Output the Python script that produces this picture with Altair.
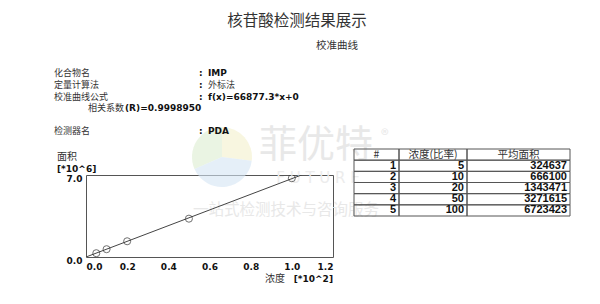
import altair as alt
import pandas as pd

# ---------------- data ----------------
row_ids = [1, 2, 3, 4, 5]
conc = [5, 10, 20, 50, 100]
area = [324637, 666100, 1343471, 3271615, 6723423]
slope = 66877.3
intercept = 0.0
x_ticks = [0.0, 0.2, 0.4, 0.6, 0.8, 1.0, 1.2]
y_ticks = [0.0, 7.0]
headers = ["#", "浓度(比率)", "平均面积"]

# ---------------- layout ----------------
OX, OY = 86, 175          # plot-area origin on the page
W, H = 247, 82            # plot-area size
CJK = "Noto Sans CJK SC"
BOLD = "DejaVu Sans"
one = pd.DataFrame({"a": [0]})


def label(text, x, y, size=9, weight="normal", font=CJK, color="#333",
          align="left", baseline="middle", opacity=1.0):
    return alt.Chart(one).mark_text(
        text=text, align=align, baseline=baseline, font=font, fontSize=size,
        fontWeight=weight, color=color, opacity=opacity
    ).encode(x=alt.value(x - OX), y=alt.value(y - OY))


# ---------------- calibration plot ----------------
pts = pd.DataFrame({"x": [c / 100 for c in conc], "y": [a / 1e6 for a in area]})
line_x = [0.0, 1.2]
line_df = pd.DataFrame({"x": line_x,
                        "y": [(slope * v * 100 + intercept) / 1e6 for v in line_x]})

xs = alt.Scale(domain=[0, 1.2], nice=False, zero=False)
ys = alt.Scale(domain=[0, 7.0], nice=False)
xaxis = alt.Axis(values=x_ticks, format=".1f", title=None, ticks=False, domain=False,
                 grid=False, labelFont=BOLD, labelFontWeight="bold", labelFontSize=9,
                 labelColor="#111", labelPadding=5)
yaxis = alt.Axis(values=y_ticks, format=".1f", title=None, ticks=False, domain=False,
                 grid=False, labelFont=BOLD, labelFontWeight="bold", labelFontSize=9,
                 labelColor="#111", labelPadding=4, labelOffset=3)

fit_line = alt.Chart(line_df).mark_line(color="#444", strokeWidth=1, clip=True).encode(
    x=alt.X("x:Q", scale=xs, axis=xaxis),
    y=alt.Y("y:Q", scale=ys, axis=yaxis),
)
points = alt.Chart(pts).mark_point(shape="circle", filled=False, color="#333",
                                   size=50, strokeWidth=1, clip=True).encode(
    x=alt.X("x:Q", scale=xs), y=alt.Y("y:Q", scale=ys))
plot = alt.layer(fit_line, points)

# ---------------- table ----------------
col_w = [45, 68, 103]
edges = [0]
for w in col_w:
    edges.append(edges[-1] + w)
T_X0, T_X1 = 354 - OX, 570 - OX
T_Y0, T_Y1 = 149 - OY, 216 - OY

cells = []
for r in range(6):
    for c in range(3):
        cells.append({"row": r, "x0": edges[c], "x1": edges[c + 1]})
cells_df = pd.DataFrame(cells)

head_df = pd.DataFrame({"row": [0, 0, 0], "xc": [(edges[c] + edges[c + 1]) / 2 for c in range(3)],
                        "t": headers})
body = []
for i in range(5):
    vals = [str(row_ids[i]), str(conc[i]), str(area[i])]
    for c in range(3):
        body.append({"row": i + 1, "xr": edges[c + 1], "t": vals[c]})
body_df = pd.DataFrame(body)

txs = alt.Scale(domain=[0, edges[-1]], range=[T_X0, T_X1], nice=False, zero=False)
tys = alt.Scale(domain=list(range(6)), range=[T_Y0, T_Y1], paddingInner=0, paddingOuter=0)

t_rect = alt.Chart(cells_df).mark_rect(fill="white", fillOpacity=0, stroke="#555",
                                       strokeWidth=1).encode(
    x=alt.X("x0:Q", scale=txs, axis=None), x2="x1:Q",
    y=alt.Y("row:O", scale=tys, axis=None))
t_head = alt.Chart(head_df).mark_text(font=CJK, fontSize=10.5, color="#333",
                                      align="center", baseline="middle").encode(
    x=alt.X("xc:Q", scale=txs, axis=None), y=alt.Y("row:O", scale=tys, axis=None),
    text="t:N")
t_body = alt.Chart(body_df).mark_text(font="Liberation Sans", fontWeight="bold",
                                      fontSize=11, color="#111", align="right",
                                      baseline="middle", dx=-3).encode(
    x=alt.X("xr:Q", scale=txs, axis=None), y=alt.Y("row:O", scale=tys, axis=None),
    text="t:N")
table = alt.layer(t_rect, t_head, t_body)

# ---------------- watermark ----------------
arc_specs = [(4.3, 6.2832, "#dcecd0"), (0.0, 1.7, "#f4f0cc"), (1.7, 4.3, "#d3e5f4")]
wm = []
for t0, t1, col in arc_specs:
    wm.append(alt.Chart(one).mark_arc(color=col, opacity=0.6, theta=t0, theta2=t1,
                                      radius=30).encode(
        x=alt.value(222 - OX), y=alt.value(157 - OY)))
wm += [
    label("菲优特", 259, 146, size=38, color="#e8e8e8"),
    label("®", 381, 136, size=16, color="#e8e8e8"),
    label("F  U  T  U  R  E", 318, 178, size=15, font="DejaVu Sans", color="#ececec",
          align="center"),
    label("一站式检测技术与咨询服务", 286, 210, size=15.5, color="#e8e8e8", align="center"),
]

# ---------------- static texts ----------------
R1, R2, R3, R4, R5 = 73, 85, 97, 108, 131
texts = [
    label("核苷酸检测结果展示", 297, 21, size=15.5, color="#333", align="center"),
    label("校准曲线", 337, 46, size=10.5, color="#333", align="center"),
    label("化合物名", 54, R1),
    label("定量计算法", 54, R2),
    label("校准曲线公式", 54, R3),
    label("相关系数", 88, R4),
    label("(R)=0.9998950", 125, R4, size=9, weight="bold", font=BOLD, color="#111"),
    label("检测器名", 54, R5),
    label(":", 199, R1, size=9, weight="bold", font=BOLD, color="#111"),
    label(":", 199, R2, size=9, weight="bold", font=BOLD, color="#111"),
    label(":", 199, R3, size=9, weight="bold", font=BOLD, color="#111"),
    label(":", 199, R5, size=9, weight="bold", font=BOLD, color="#111"),
    label("IMP", 208, R1, size=9, weight="bold", font=BOLD, color="#111"),
    label("外标法", 208, R2),
    label(f"f(x)={slope}*x+{intercept:g}", 208, R3, size=9, weight="bold", font=BOLD,
          color="#111"),
    label("PDA", 208, R5, size=9, weight="bold", font=BOLD, color="#111"),
    label("面积", 57, 157, size=10),
    label("[*10^6]", 57, 169, size=9, weight="bold", font=BOLD, color="#111"),
    label("浓度", 265, 279, size=10),
    label("[*10^2]", 333, 279, size=9, weight="bold", font=BOLD, color="#111",
          align="right"),
]

chart = alt.layer(*wm, plot, table, *texts).resolve_scale(
    x="independent", y="independent"
).properties(
    width=W, height=H,
    padding={"left": OX, "top": OY, "right": 600 - OX - W, "bottom": 304 - OY - H},
    autosize=alt.AutoSizeParams(type="none"),
    background="white",
).configure_view(stroke="#555", strokeWidth=1)

chart.save("out.html", embed_options={"renderer": "svg", "actions": False})
